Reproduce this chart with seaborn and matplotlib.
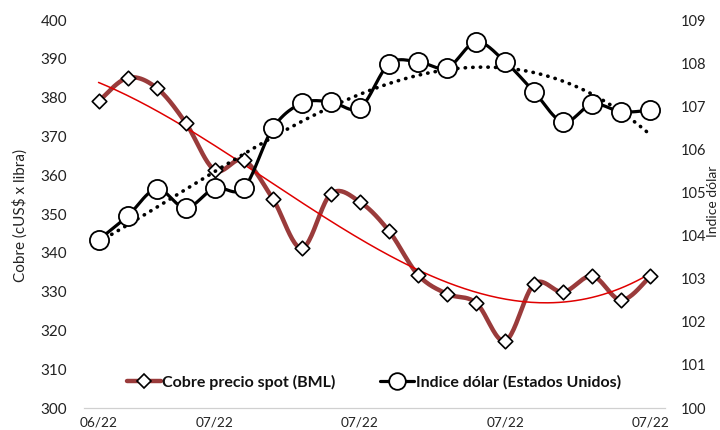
import numpy as np
import pandas as pd
import matplotlib
matplotlib.use("Agg")
import matplotlib.pyplot as plt
from matplotlib.lines import Line2D
import seaborn as sns

# Data
cobre = [379.0, 385.1, 382.5, 373.5, 361.3, 363.9, 353.9, 341.2, 355.2, 353.1,
         345.6, 334.3, 329.4, 327.1, 317.3, 332.0, 329.9, 334.0, 327.8, 334.0]
dolar = [103.9, 104.45, 105.08, 104.64, 105.1, 105.1, 106.49, 107.07, 107.1, 106.96,
         107.98, 108.03, 107.89, 108.49, 108.03, 107.33, 106.63, 107.05, 106.87, 106.91]
tick_labels = ["06/22", "", "", "", "07/22", "", "", "", "", "07/22",
               "", "", "", "", "07/22", "", "", "", "", "07/22"]

df = pd.DataFrame({"x": np.arange(len(cobre)), "cobre": cobre, "dolar": dolar})


def smooth(x, y, n=24):
    # Catmull-Rom curve through the points (like Excel's smoothed line)
    x = np.asarray(x, float)
    y = np.asarray(y, float)
    px = np.concatenate([[x[0]], x, [x[-1]]])
    py = np.concatenate([[y[0]], y, [y[-1]]])
    t = np.linspace(0, 1, n, endpoint=False)
    xs, ys = [], []
    for i in range(1, len(px) - 2):
        for p, out in ((px, xs), (py, ys)):
            p0, p1, p2, p3 = p[i - 1], p[i], p[i + 1], p[i + 2]
            out.extend(0.5 * (2 * p1 + (-p0 + p2) * t
                              + (2 * p0 - 5 * p1 + 4 * p2 - p3) * t ** 2
                              + (-p0 + 3 * p1 - 3 * p2 + p3) * t ** 3))
    xs.append(x[-1])
    ys.append(y[-1])
    return np.array(xs), np.array(ys)


sns.set_style("white")
plt.rcParams["font.family"] = ["Lato", "DejaVu Sans"]

fig = plt.figure(figsize=(7.2, 4.3), dpi=100)
ax = fig.add_axes([84 / 720, 1 - 408 / 430, 581 / 720, 388 / 430])
ax2 = ax.twinx()

copper_col = "#9A3B3B"
xs = df["x"].to_numpy()
xt = np.linspace(0, len(xs) - 1, 200)

# Copper series (left axis)
sx, sy = smooth(xs, cobre)
ax.plot(sx, sy, color=copper_col, lw=3.2, solid_capstyle="round", zorder=2)
ax.plot(xt, np.polyval(np.polyfit(xs, cobre, 3), xt), color="#E00000", lw=1.1, zorder=3)
sns.scatterplot(data=df, x="x", y="cobre", ax=ax, marker="D", s=55,
                color="white", edgecolor="black", linewidth=1.2, zorder=4, legend=False)

# Dollar index (right axis)
dx, dy = smooth(xs, dolar)
ax2.plot(dx, dy, color="black", lw=2.3, zorder=2)
ax2.plot(xt, np.polyval(np.polyfit(xs, dolar, 3), xt), color="black", lw=2.6,
         linestyle=(0, (0.1, 2.0)), dash_capstyle="round", zorder=3)
sns.scatterplot(data=df, x="x", y="dolar", ax=ax2, marker="o", s=190,
                color="white", edgecolor="black", linewidth=1.3, zorder=4, legend=False)

# Axes styling
ax.set_xlim(-0.5, len(xs) - 0.5)
ax.set_ylim(300, 400)
ax2.set_ylim(100, 109)
ax.set_yticks(np.arange(300, 401, 10))
ax2.set_yticks(np.arange(100, 110, 1))
ax.set_xticks(xs)
ax.set_xticklabels(tick_labels)
ax.set_xticks(np.arange(-0.5, len(xs), 1), minor=True)
ax.tick_params(axis="x", which="major", length=0, pad=6, labelsize=9.8, colors="#222222")
ax.tick_params(axis="x", which="minor", length=4, color="#d0d0d0", width=0.8)
ax.tick_params(axis="y", length=0, pad=12, labelsize=11, colors="#222222")
ax2.tick_params(axis="y", length=0, pad=11, labelsize=10.5, colors="#222222")
for a in (ax, ax2):
    for s in ("top", "left", "right"):
        a.spines[s].set_visible(False)
    a.spines["bottom"].set_color("#d0d0d0")
    a.set_xlabel("")
    a.set_ylabel("")

fig.text(20 / 720, 1 - 215 / 430, "Cobre (cUS$ x libra)", rotation=90,
         ha="center", va="center", fontsize=11, color="#222222")
fig.text(713 / 720, 1 - 201 / 430, "Indice dólar", rotation=90,
         ha="center", va="center", fontsize=10, color="#222222")

handles = [
    Line2D([], [], color=copper_col, lw=3.2, marker="D", markersize=7,
           markerfacecolor="white", markeredgecolor="black", markeredgewidth=1.2),
    Line2D([], [], color="black", lw=2.3, marker="o", markersize=12,
           markerfacecolor="white", markeredgecolor="black", markeredgewidth=1.3),
]
leg = ax2.legend(handles, ["Cobre precio spot (BML)", "Indice dólar (Estados Unidos)"],
                 loc="center", bbox_to_anchor=((374 - 84) / 581, (408 - 382) / 388),
                 ncol=2, frameon=False, handlelength=2.1, handletextpad=0.1,
                 columnspacing=2.8, prop={"weight": "bold", "size": 11.5})
for t in leg.get_texts():
    t.set_color("#111111")

fig.savefig("out.png", dpi=100)
